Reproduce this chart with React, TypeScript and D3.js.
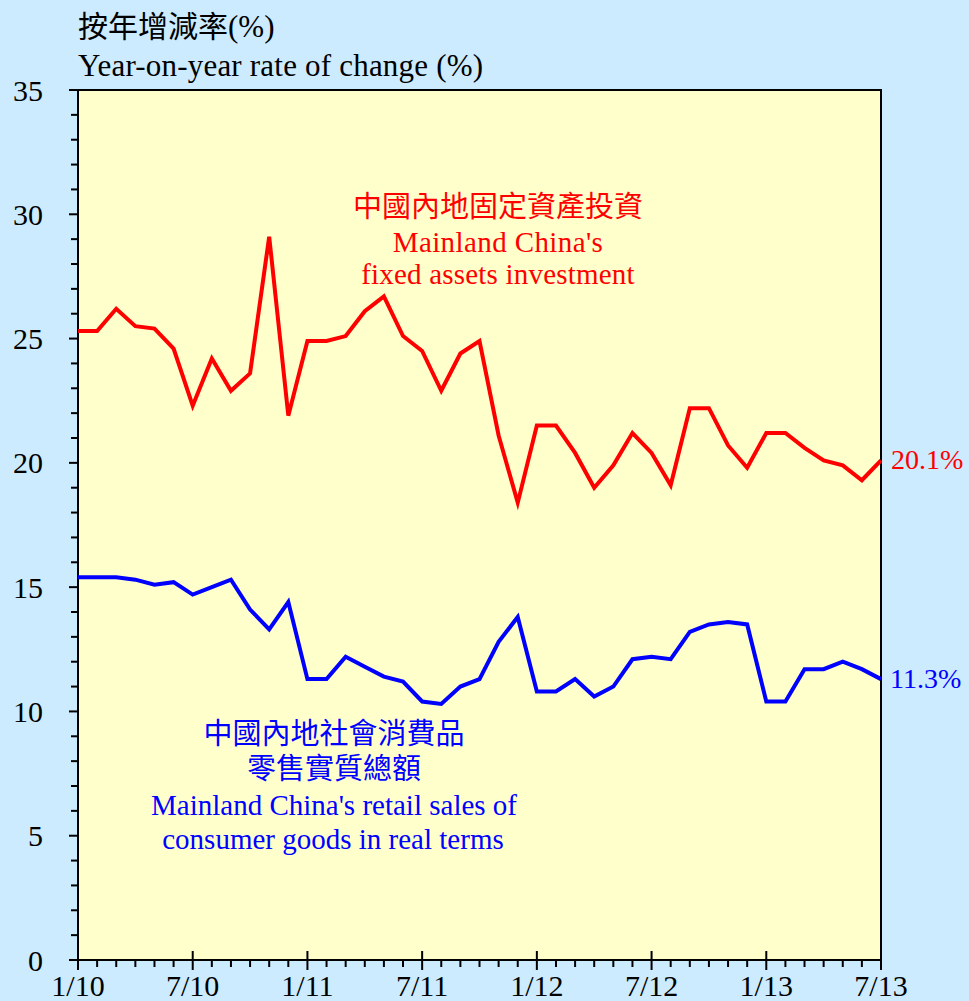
import React from "react";
import * as d3 from "d3";

const monthLabels = ["1/10", "7/10", "1/11", "7/11", "1/12", "7/12", "1/13", "7/13"];

const fixedAssets = [
  25.3, 25.3, 26.2, 25.5, 25.4, 24.6, 22.3, 24.2, 22.9, 23.6, 29.1, 21.9,
  24.9, 24.9, 25.1, 26.1, 26.7, 25.1, 24.5, 22.9, 24.4, 24.9, 21.1, 18.4,
  21.5, 21.5, 20.4, 19.0, 19.9, 21.2, 20.4, 19.1, 22.2, 22.2, 20.7, 19.8,
  21.2, 21.2, 20.6, 20.1, 19.9, 19.3, 20.1,
];

const retailSales = [
  15.4, 15.4, 15.4, 15.3, 15.1, 15.2, 14.7, 15.0, 15.3, 14.1, 13.3, 14.4,
  11.3, 11.3, 12.2, 11.8, 11.4, 11.2, 10.4, 10.3, 11.0, 11.3, 12.8, 13.8,
  10.8, 10.8, 11.3, 10.6, 11.0, 12.1, 12.2, 12.1, 13.2, 13.5, 13.6, 13.5,
  10.4, 10.4, 11.7, 11.7, 12.0, 11.7, 11.3,
];

const yTicks = d3.range(0, 36, 1);
const yLabels = [0, 5, 10, 15, 20, 25, 30, 35];

const W = 969;
const H = 1001;
const L = 78, R = 881, T = 90, B = 960;
const FONT = "'Liberation Serif', 'Times New Roman', 'Noto Sans CJK TC', serif";

export default function App() {
  const n = fixedAssets.length;
  const x = d3.scaleLinear().domain([0, n - 1]).range([L, R]);
  const y = d3.scaleLinear().domain([0, 35]).range([B, T]);
  const line = d3
    .line<number>()
    .x((_, i) => x(i))
    .y((d) => y(d));

  const last = n - 1;

  return (
    <svg
      width={W}
      height={H}
      style={{ position: "absolute", left: 0, top: 0 }}
      fontFamily={FONT}
    >
      <rect x={0} y={0} width={W} height={H} fill="#CCEBFF" />
      <rect x={L} y={T} width={R - L} height={B - T} fill="#FFFFCC" stroke="#000" strokeWidth={2} />

      {/* titles */}
      <text x={78} y={37} fontSize={30} fill="#000">按年增減率<tspan fontSize={31}>(%)</tspan></text>
      <text x={78} y={76} fontSize={31} fill="#000" letterSpacing={0.2}>Year-on-year rate of change (%)</text>

      {/* y ticks */}
      {yTicks.map((v) => (
        <line
          key={"yt" + v}
          x1={v % 5 === 0 ? 69 : 71}
          x2={L}
          y1={y(v)}
          y2={y(v)}
          stroke="#000"
          strokeWidth={2}
        />
      ))}
      {yLabels.map((v) => (
        <text key={"yl" + v} x={43} y={y(v)} dy="0.35em" textAnchor="end" fontSize={30} fill="#000">
          {v}
        </text>
      ))}

      {/* x ticks */}
      {d3.range(0, n).map((i) => (
        <line
          key={"xt" + i}
          x1={x(i)}
          x2={x(i)}
          y1={i % 6 === 0 ? 951 : B}
          y2={i % 6 === 0 ? 970 : 967}
          stroke="#000"
          strokeWidth={2}
        />
      ))}
      {monthLabels.map((lab, k) => (
        <text key={"xl" + k} x={x(k * 6)} y={996} textAnchor="middle" fontSize={30} fill="#000">
          {lab}
        </text>
      ))}

      {/* axes */}
      <line x1={L} x2={L} y1={T} y2={B} stroke="#000" strokeWidth={2} />
      <line x1={L} x2={R} y1={B} y2={B} stroke="#000" strokeWidth={2} />

      {/* lines */}
      <path d={line(fixedAssets) || ""} fill="none" stroke="#FF0000" strokeWidth={4} strokeLinejoin="miter" />
      <path d={line(retailSales) || ""} fill="none" stroke="#0000FF" strokeWidth={4} strokeLinejoin="miter" />

      {/* end labels */}
      <text x={891} y={y(fixedAssets[last])} dy="0.3em" fontSize={28} fill="#FF0000">
        {fixedAssets[last].toFixed(1)}%
      </text>
      <text x={890} y={y(retailSales[last])} dy="0.3em" fontSize={28} fill="#0000FF">
        {retailSales[last].toFixed(1)}%
      </text>

      {/* series labels */}
      <g fill="#FF0000" fontSize={29} textAnchor="middle">
        <text x={498} y={217}>中國內地固定資產投資</text>
        <text x={498} y={252} letterSpacing={0.4}>Mainland China's</text>
        <text x={498} y={284} letterSpacing={0.2}>fixed assets investment</text>
      </g>
      <g fill="#0000FF" fontSize={29} textAnchor="middle">
        <text x={334} y={744}>中國內地社會消費品</text>
        <text x={334} y={779}>零售實質總額</text>
        <text x={334} y={815}>Mainland China's retail sales of</text>
        <text x={333} y={849}>consumer goods in real terms</text>
      </g>
    </svg>
  );
}
